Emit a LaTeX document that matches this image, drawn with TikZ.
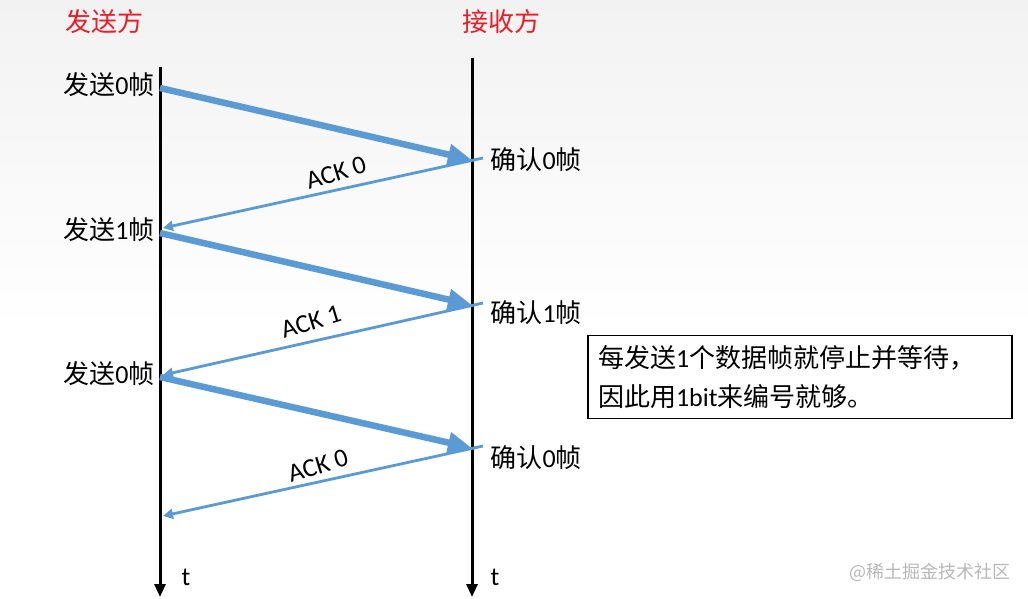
\documentclass[tikz,border=0pt]{standalone}
\usepackage{fontspec}
\setmainfont{Carlito}
\newfontfamily\cjk{Noto Sans CJK SC}
\usetikzlibrary{arrows.meta,positioning,calc}
\definecolor{framebl}{RGB}{91,155,213}
\definecolor{titlered}{RGB}{235,28,36}
\definecolor{bgtop}{RGB}{242,242,242}

\begin{document}
\begin{tikzpicture}[x=1pt,y=-1pt,
    every node/.style={font=\fontsize{26}{31}\selectfont},
    timeline/.style={line width=3pt,-{Triangle[length=13pt,width=11pt]}},
    dataarr/.style={framebl,line width=6.5pt,-{Triangle[length=24pt,width=20pt]}},
    ackarr/.style={framebl,line width=2.8pt,-{Triangle[length=10pt,width=10pt]}}]
  % background
  \useasboundingbox (0,0) rectangle (1028,599);
  \fill[white] (0,0) rectangle (1028,599);
  \shade[top color=bgtop,bottom color=white] (0,0) rectangle (1028,330);
  % titles and time lines
  \node[titlered] (snd) at (104,22) {\cjk 发送方};
  \node[titlered] (rcv) at (501,22) {\cjk 接收方};
  \coordinate (s0) at (160,67); \coordinate (s1) at (160,597);
  \coordinate (r0) at (472,58); \coordinate (r1) at (472,597);
  \draw[timeline] (s0) -- (s1);
  \draw[timeline] (r0) -- (r1);
  \node (ts) at (186,577) {t};
  \node (tr) at (495,577) {t};
  % frames and acknowledgements
  \foreach \i/\ys/\yr/\ya/\n/\m/\ly/\kx/\ky in {1/88/160/228/0/0/160/336/173,
      2/233/305/375/1/1/313/311/322,3/377/448/516/0/0/458/318/466} {
    \coordinate (d\i) at (160,\ys);
    \coordinate (e\i) at (472,\yr);
    \coordinate (a\i) at (483,\yr-2);
    \coordinate (b\i) at (163,\ya);
    \draw[dataarr] (d\i) -- (e\i);
    \draw[ackarr] (a\i) -- (b\i);
    \node[anchor=east] (sl\i) at (158,\ys-3) {{\cjk 发送}\n{\cjk 帧}};
    \node[anchor=west] (rl\i) at (487,\ly) {{\cjk 确认}\n{\cjk 帧}};
    \node[rotate=17,inner sep=0pt] (ak\i) at (\kx,\ky) {ACK~\m};
  }
  % note
  \node[draw,line width=1.6pt,fill=white,minimum width=424pt,minimum height=78pt,
        align=left,inner sep=10pt,text width=404pt,font=\fontsize{26}{39}\selectfont]
        (note) at (800,377) {{\cjk 每发送}1{\cjk 个数据帧就停止并等待，}\\{\cjk 因此用}1bit{\cjk 来编号就够。}};
  \node[text=black!28,font=\fontsize{18}{22}\selectfont] (wm) at (930,572) {\cjk @稀土掘金技术社区};
\end{tikzpicture}
\end{document}
